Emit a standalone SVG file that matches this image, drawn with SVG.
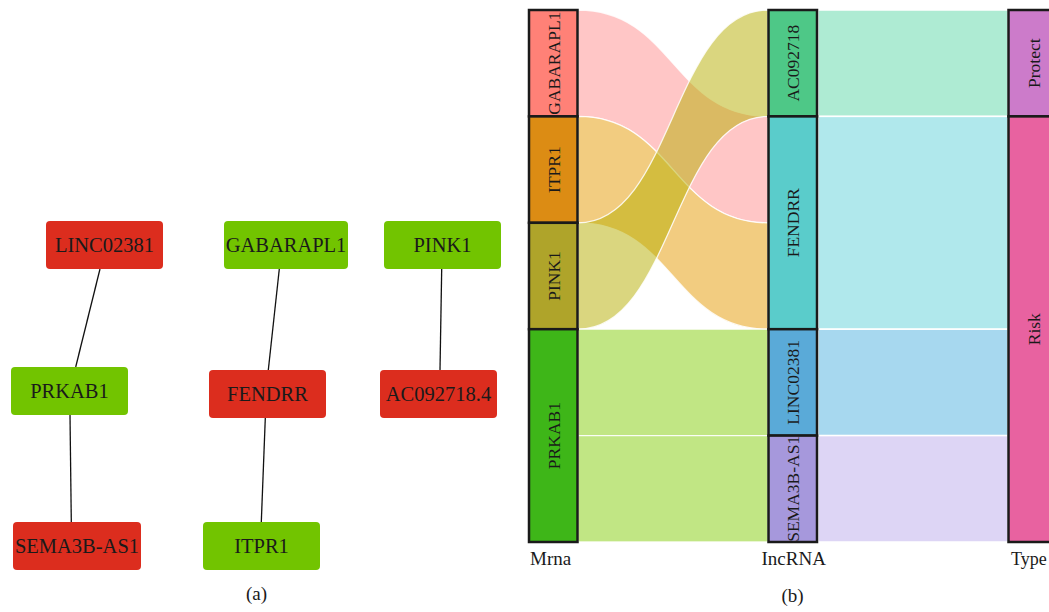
<svg xmlns="http://www.w3.org/2000/svg" width="1049" height="612" viewBox="0 0 1049 612">
<style>
text{font-family:"Liberation Serif","Times New Roman",serif;fill:#1a1a1a}
.nt{font-size:20.5px;text-anchor:middle}
.red{fill:#DC2D1E}
.grn{fill:#72C400}
.edge{stroke:#111;stroke-width:1.3;fill:none}
.col{stroke:#1a1a1a;stroke-width:2.5}
.lbl{font-size:17.5px;text-anchor:middle}
.flow{fill-opacity:0.5;stroke:#fff;stroke-width:1.3;stroke-opacity:0.85}
.tflow{stroke:#fff;stroke-width:1.5}
.axis{font-size:19px}
</style>
<rect width="1049" height="612" fill="#fff"/>
<!-- Panel (a) -->
<g id="connectors-a">
<line class="edge" x1="100" y1="269" x2="75.7" y2="367"/>
<line class="edge" x1="279.3" y1="269" x2="268.3" y2="370"/>
<line class="edge" x1="441.7" y1="269" x2="440" y2="370"/>
<line class="edge" x1="70" y1="415" x2="71.3" y2="522"/>
<line class="edge" x1="265.3" y1="418" x2="261.3" y2="522"/>
</g>
<g id="node-LINC02381"><rect class="red" x="46" y="221" width="117" height="48" rx="4"/><text class="nt" x="104.5" y="251.5">LINC02381</text></g>
<g id="node-GABARAPL1"><rect class="grn" x="224" y="221" width="124" height="48" rx="4"/><text class="nt" x="286" y="251.5">GABARAPL1</text></g>
<g id="node-PINK1"><rect class="grn" x="384" y="221" width="117" height="48" rx="4"/><text class="nt" x="442.5" y="251.5">PINK1</text></g>
<g id="node-PRKAB1"><rect class="grn" x="11" y="367" width="117" height="48" rx="4"/><text class="nt" x="69.5" y="397.5">PRKAB1</text></g>
<g id="node-FENDRR"><rect class="red" x="209" y="370" width="117" height="48" rx="4"/><text class="nt" x="267.5" y="400.5">FENDRR</text></g>
<g id="node-AC092718.4"><rect class="red" x="380" y="370" width="117" height="48" rx="4"/><text class="nt" x="438.5" y="400.5">AC092718.4</text></g>
<g id="node-SEMA3B-AS1"><rect class="red" x="13" y="522" width="128" height="48" rx="4"/><text class="nt" x="77" y="552.5">SEMA3B-AS1</text></g>
<g id="node-ITPR1"><rect class="grn" x="203" y="522" width="117" height="48" rx="4"/><text class="nt" x="261.5" y="552.5">ITPR1</text></g>
<text class="axis" x="256.5" y="600" text-anchor="middle">(a)</text>
<!-- Panel (b) -->
<g id="connectors-b">
<path class="flow" fill="#FF8D8D" d="M578,10 C673,10 673,116.4 768,116.4 L768,222.8 C673,222.8 673,116.4 578,116.4 Z"/>
<path class="flow" fill="#E59901" d="M578,116.4 C673,116.4 673,222.8 768,222.8 L768,329.2 C673,329.2 673,222.8 578,222.8 Z"/>
<path class="flow" fill="#B5AD00" d="M578,222.8 C673,222.8 673,10 768,10 L768,116.4 C673,116.4 673,329.2 578,329.2 Z"/>
<path class="flow" fill="#83CD09" d="M578,329.2 L768,329.2 L768,435.6 L578,435.6 Z"/>
<path class="flow" fill="#83CD09" d="M578,435.6 L768,435.6 L768,542 L578,542 Z"/>
<rect class="tflow" fill="#AEEBD3" x="818" y="10" width="190" height="106.4"/>
<rect class="tflow" fill="#B0E8EC" x="818" y="116.4" width="190" height="212.8"/>
<rect class="tflow" fill="#A7D8EF" x="818" y="329.2" width="190" height="106.4"/>
<rect class="tflow" fill="#DDD5F5" x="818" y="435.6" width="190" height="106.4"/>
</g>
<g id="node-m-GABARAPL1"><rect class="col" fill="#FF8177" x="529" y="10" width="48.5" height="106.4"/><text class="lbl" transform="translate(553.5,63.2) rotate(-90)" y="6">GABARAPL1</text></g>
<g id="node-m-ITPR1"><rect class="col" fill="#DC8C14" x="529" y="116.4" width="48.5" height="106.4"/><text class="lbl" transform="translate(553.5,169.6) rotate(-90)" y="6">ITPR1</text></g>
<g id="node-m-PINK1"><rect class="col" fill="#AFA42A" x="529" y="222.8" width="48.5" height="106.4"/><text class="lbl" transform="translate(553.5,276) rotate(-90)" y="6">PINK1</text></g>
<g id="node-m-PRKAB1"><rect class="col" fill="#3EB618" x="529" y="329.2" width="48.5" height="212.8"/><text class="lbl" transform="translate(553.5,435.6) rotate(-90)" y="6">PRKAB1</text></g>
<g id="node-l-AC092718"><rect class="col" fill="#4EC887" x="768.5" y="10" width="48.5" height="106.4"/><text class="lbl" transform="translate(793,63.2) rotate(-90)" y="6">AC092718</text></g>
<g id="node-l-FENDRR"><rect class="col" fill="#5ACCCB" x="768.5" y="116.4" width="48.5" height="212.8"/><text class="lbl" transform="translate(793,222.8) rotate(-90)" y="6">FENDRR</text></g>
<g id="node-l-LINC02381"><rect class="col" fill="#5AAAD8" x="768.5" y="329.2" width="48.5" height="106.4"/><text class="lbl" transform="translate(793,382.4) rotate(-90)" y="6">LINC02381</text></g>
<g id="node-l-SEMA3B-AS1"><rect class="col" fill="#A698DC" x="768.5" y="435.6" width="48.5" height="106.4"/><text class="lbl" transform="translate(793,488.8) rotate(-90)" y="6">SEMA3B-AS1</text></g>
<g id="node-t-Protect"><rect class="col" fill="#CC7BCA" x="1008.5" y="10" width="50" height="106.4"/><text class="lbl" transform="translate(1033.5,63.2) rotate(-90)" y="6">Protect</text></g>
<g id="node-t-Risk"><rect class="col" fill="#E862A0" x="1008.5" y="116.4" width="50" height="425.6"/><text class="lbl" transform="translate(1033.5,329.2) rotate(-90)" y="6">Risk</text></g>
<text class="axis" x="530" y="565">Mrna</text>
<text class="axis" x="761.5" y="565">IncRNA</text>
<text class="axis" x="1011" y="565" style="font-size:18px">Type</text>
<text class="axis" x="792.5" y="602" text-anchor="middle">(b)</text>
</svg>
